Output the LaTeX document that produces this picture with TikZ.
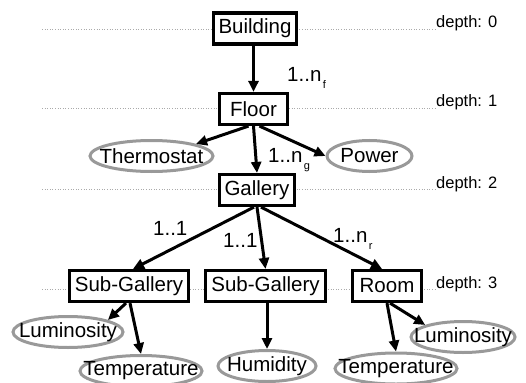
\documentclass[tikz,border=0pt]{standalone}
\usepackage{fontspec}
\setmainfont{Liberation Sans}
\usetikzlibrary{arrows.meta,shapes.geometric}
\definecolor{ellgray}{HTML}{999999}
\definecolor{linegray}{HTML}{AAAAAA}
\tikzset{
  box/.style={draw=black, line width=3.2pt, fill=white, inner sep=0pt,
    font=\fontsize{20.5}{21}\selectfont, minimum height=31pt},
  ell/.style={ellipse, draw=ellgray, line width=3pt, fill=white, inner sep=0pt,
    font=\fontsize{20.5}{21}\selectfont, minimum height=31pt},
  arr/.style={line width=3pt, -{Triangle[length=11pt,width=10pt]}},
  depthline/.style={draw=linegray, line width=0.6pt, dotted},
  depthlbl/.style={anchor=base west, inner sep=0pt, font=\fontsize{16.5}{17}\selectfont},
  mult/.style={anchor=base west, inner sep=0pt, font=\fontsize{20.5}{21}\selectfont},
}
\newcommand{\subs}[1]{\hspace{1.5pt}\raisebox{-7pt}{\fontsize{11}{11}\selectfont #1}}
\newcommand{\nw}[1]{\makebox[0pt]{#1}}
\begin{document}
\begin{tikzpicture}[x=1pt,y=-1pt]
\useasboundingbox (0,0) rectangle (526,382);
% depth lines
\coordinate (d0a) at (42,29);  \coordinate (d0b) at (436,29);
\coordinate (d1a) at (42,108); \coordinate (d1b) at (436,108);
\coordinate (d2a) at (42,189); \coordinate (d2b) at (436,189);
\coordinate (d3a) at (42,289); \coordinate (d3b) at (436,289);
\draw[depthline] (d0a) -- (d0b);
\draw[depthline] (d1a) -- (d1b);
\draw[depthline] (d2a) -- (d2b);
\draw[depthline] (d3a) -- (d3b);
\node[depthlbl] (t0) at (436,28) {depth: 0};
\node[depthlbl] (t1) at (436,107) {depth: 1};
\node[depthlbl] (t2) at (436,188) {depth: 2};
\node[depthlbl] (t3) at (436,288) {depth: 3};
% boxes
\node[box, minimum width=83pt] (build) at (255,28.5) {Building};
\node[box, minimum width=68pt] (floor) at (253.5,109) {Floor};
\node[box, minimum width=75pt] (gallery) at (257,190) {Gallery};
\node[box, minimum width=119pt] (sg1) at (129,286) {Sub-Gallery};
\node[box, minimum width=120pt] (sg2) at (265.5,286) {Sub-Gallery};
\node[box, minimum width=69pt] (room) at (387,286) {Room};
% ellipses
\node[ell, minimum width=123pt] (thermo) at (151.5,156) {\nw{Thermostat}};
\node[ell, minimum width=85pt] (power) at (369.5,156) {\nw{Power}};
\node[ell, minimum width=110pt] (lum1) at (68,332) {\nw{Luminosity}};
\node[ell, minimum width=122pt] (temp1) at (141,371) {\nw{Temperature}};
\node[ell, minimum width=98pt] (hum) at (267,366) {\nw{Humidity}};
\node[ell, minimum width=122pt] (temp2) at (396,368.5) {\nw{Temperature}};
\node[ell, minimum width=104pt] (lum2) at (463,337) {\nw{Luminosity}};
% arrows
\draw[arr] (build.south -| floor.north) -- (floor.north);
\draw[arr] ([xshift=-5pt]floor.south) -- (thermo.north east);
\draw[arr] (floor.south) -- (gallery.north);
\draw[arr] ([xshift=6pt]floor.south) -- (power.west);
\draw[arr] ([xshift=-3pt]gallery.south) -- ([xshift=4pt]sg1.north);
\draw[arr] (gallery.south) -- (sg2.north);
\draw[arr] ([xshift=4pt]gallery.south) -- ([xshift=-5pt]room.north);
\draw[arr] ([xshift=-3pt]sg1.south) -- (lum1.north east);
\draw[arr] ([xshift=1pt]sg1.south) -- (temp1.north);
\draw[arr] (sg2.south -| hum.north) -- (hum.north);
\draw[arr] (room.south) -- (temp2.north);
\draw[arr] ([xshift=3pt]room.south) -- (lum2.north west);
% multiplicities
\node[mult] (mf) at (287,82) {1..n\subs{f}};
\node[mult] (mg) at (268,162) {1..n\subs{g}};
\node[mult] (m1a) at (153,235) {1..1};
\node[mult] (m1b) at (223,247) {1..1};
\node[mult] (mr) at (333,242) {1..n\subs{r}};
\end{tikzpicture}
\end{document}
